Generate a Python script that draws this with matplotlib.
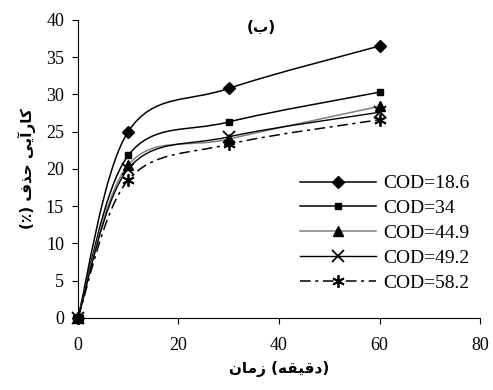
import matplotlib

matplotlib.use("Agg")
import matplotlib.pyplot as plt
from matplotlib.lines import Line2D
from matplotlib.path import Path
from matplotlib.patches import PathPatch

# data
TIME = [0, 10, 30, 60]
COD_LABELS = ["COD=18.6", "COD=34", "COD=44.9", "COD=49.2", "COD=58.2"]
REMOVAL = [
    [0, 25.0, 30.8, 36.5],
    [0, 21.8, 26.3, 30.3],
    [0, 20.5, 24.0, 28.4],
    [0, 20.0, 24.3, 27.6],
    [0, 18.5, 23.3, 26.6],
]
XTICKS = [0, 20, 40, 60, 80]
YTICKS = [0, 5, 10, 15, 20, 25, 30, 35, 40]

# Persian labels, pre-shaped (presentation forms, visual order)
XLABEL = "\uFEE5\uFE8E\uFEE3\uFEAF (\uFEEA\uFED8\uFBFF\uFED7\uFEA9)"
YLABEL = "(\u066A) \uFED1\uFEAC\uFEA3 \uFBFD\uFBFE\uFE81\uFEAD\uFE8E\uFB90"
TITLE = "(\uFE8F)"

STYLES = [
    dict(color="black", lw=1.1, marker="D", ms=6.5, mew=1.0, ls="-"),
    dict(color="black", lw=1.1, marker="s", ms=4.5, mew=1.0, ls="-"),
    dict(color="#808080", lw=1.1, marker="^", ms=7, mew=1.0, ls="-"),
    dict(color="black", lw=1.0, marker="x", ms=8, mew=1.3, ls="-"),
    dict(color="black", lw=1.1, marker=(6, 2, 0), ms=9, mew=1.3, ls=(0, (7, 3, 2, 3))),
]


def smooth_path(x, y):
    # Excel-style smoothed line as cubic Bezier segments (Catmull-Rom control points)
    pts = list(zip(x, y))
    ext = [pts[0]] + pts + [pts[-1]]
    verts = [pts[0]]
    codes = [Path.MOVETO]
    for i in range(1, len(ext) - 2):
        p0, p1, p2, p3 = ext[i - 1], ext[i], ext[i + 1], ext[i + 2]
        c1 = (p1[0] + (p2[0] - p0[0]) / 6, p1[1] + (p2[1] - p0[1]) / 6)
        c2 = (p2[0] - (p3[0] - p1[0]) / 6, p2[1] - (p3[1] - p1[1]) / 6)
        verts += [c1, c2, p2]
        codes += [Path.CURVE4] * 3
    return Path(verts, codes)


plt.rcParams["font.family"] = ["Liberation Serif", "DejaVu Sans"]

fig = plt.figure(figsize=(4.93, 3.9), dpi=100)
ax = fig.add_axes([0.158, 0.185, 0.816, 0.764])

handles = []
for vals, lab, st in zip(REMOVAL, COD_LABELS, STYLES):
    ax.add_patch(PathPatch(smooth_path(TIME, vals), fill=False, edgecolor=st["color"],
                           lw=st["lw"], ls=st["ls"], zorder=2, capstyle="butt"))
    ax.plot(TIME, vals, ls="none", marker=st["marker"], ms=st["ms"], mfc="black",
            mec="black", mew=st["mew"], zorder=3, clip_on=False)
    handles.append(Line2D([], [], color=st["color"], lw=st["lw"], ls=st["ls"],
                          marker=st["marker"], ms=st["ms"], mfc="black", mec="black",
                          mew=st["mew"], label=lab))

ax.set_xlim(0, 80)
ax.set_ylim(0, 40)
ax.set_xticks(XTICKS)
ax.set_yticks(YTICKS)
ax.tick_params(axis="y", direction="out", length=4, width=0.8, labelsize=13, pad=6)
ax.tick_params(axis="x", direction="out", length=4, width=0.8, labelsize=13, pad=10)
for s in ["top", "right"]:
    ax.spines[s].set_visible(False)

ax.set_xlabel(XLABEL, family=["DejaVu Sans"], fontsize=11, fontweight="bold", labelpad=5)
ax.set_ylabel(YLABEL, family=["DejaVu Sans"], fontsize=11, fontweight="bold", labelpad=7)
ax.text(0.455, 0.975, TITLE, transform=ax.transAxes, ha="center", va="center",
        family=["DejaVu Sans"], fontsize=11, fontweight="bold")

ax.legend(handles=handles, loc="upper left", bbox_to_anchor=(0.552, 0.48), frameon=False,
          fontsize=14, handlelength=3.9, handletextpad=0.4, labelspacing=0.37,
          borderaxespad=0, borderpad=0)

fig.savefig("out.png", dpi=100)
